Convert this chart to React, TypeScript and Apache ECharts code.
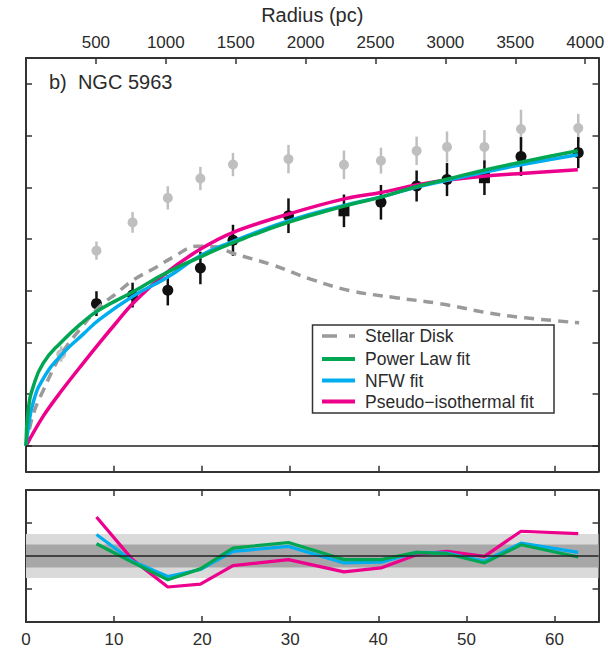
import React, { useEffect, useRef } from "react";
import * as echarts from "echarts";

// ---------- data ----------
// radius in arcsec (bottom axis), velocities in km/s
const radiusArcsec = [8.0, 12.1, 16.1, 19.8, 23.5, 29.8, 36.1, 40.3, 44.35, 47.8, 52.05, 56.2, 62.7];
const vObserved = [55.0, 58.3, 60.2, 68.8, 79.5, 89.0, 90.9, 94.2, 100.5, 103.0, 103.7, 111.9, 113.4];
const vObservedErr = [4.8, 4.8, 5.9, 6.3, 6.0, 6.7, 6.3, 6.7, 6.0, 6.4, 6.7, 7.5, 6.0];
const observedSymbols = ["circle", "circle", "circle", "circle", "circle", "circle", "rect", "circle", "circle", "circle", "rect", "circle", "circle"];

const totalRadius = [4.0, 8.0, 12.1, 16.1, 19.8, 23.5, 29.8, 36.1, 40.3, 44.35, 47.8, 52.05, 56.2, 62.7];
const vTotal = [35.5, 75.5, 86.4, 95.9, 103.4, 108.8, 110.9, 108.7, 110.3, 114.1, 115.6, 115.6, 122.5, 122.9];
const vTotalErr = [3.0, 3.5, 4.0, 4.5, 4.5, 4.5, 5.5, 5.5, 5.0, 5.5, 6.0, 6.5, 7.5, 5.5];

const diskRadius = [0, 0.8, 1.9, 4.0, 6.13, 8.39, 10.29, 12.17, 14.83, 16.71, 19.4, 21.5, 23.48, 27.88, 32.3, 36.7, 42.0, 47.0, 53.8, 62.8];
const vDisk = [0, 12, 21, 35.4, 45.1, 54, 59, 64.1, 69.2, 73, 77.2, 77.0, 74.5, 70.1, 64.5, 60.1, 57.3, 55.0, 50.7, 47.6];

const fitRadius = [0, 0.26, 0.83, 1.96, 3.97, 6.5, 8.39, 12.1, 15.97, 19.77, 23.46, 29.77, 36.12, 40.3, 44.3, 47.8, 52.0, 56.2, 62.65];
const vPowerLaw = [0, 14, 23, 32, 40, 48, 52.7, 59.5, 67, 73, 78.5, 86.4, 92.7, 96.2, 100.2, 103.1, 106.6, 109.7, 114.1];
const vNFW = [0, 7, 17, 26, 35, 43.2, 49, 57.8, 65, 73.5, 79, 87, 93, 96.3, 100, 102.7, 105.8, 108.7, 112.6];

const isoRadius = [0, 1.96, 3.97, 6.5, 8.39, 10.29, 12.1, 15.97, 19.77, 23.46, 29.77, 36.12, 40.3, 44.3, 47.8, 52.0, 56.2, 62.65];
const vIso = [0, 11.5, 21, 32, 40, 47.8, 55, 67, 76, 82.5, 89.6, 95.5, 98, 100.9, 102.8, 104.3, 105.3, 106.8];

// residuals (lower panel)
const residPowerLaw = [0.37, -0.19, -0.72, -0.39, 0.24, 0.41, -0.11, -0.11, 0.11, 0.07, -0.21, 0.34, -0.03];
const residNFW = [0.65, -0.16, -0.62, -0.41, 0.14, 0.29, -0.21, -0.19, 0.11, 0.09, -0.16, 0.39, 0.11];
const residIso = [1.18, -0.11, -0.94, -0.85, -0.29, -0.11, -0.48, -0.36, 0.04, 0.14, -0.01, 0.75, 0.68];
const bandOuter = 0.67;
const bandInner = 0.35;

// axis ticks
const velocityTicks = [0, 20, 40, 60, 80, 100, 120, 140];
const pcMax = 4095;
const arcsecMax = 65;

const legendItems = ["Stellar Disk", "Power Law fit", "NFW fit", "Pseudo\u2212isothermal fit"];

// ---------- styles ----------
const FONT = "Liberation Sans, Arial, Helvetica, sans-serif";
const AXIS_COLOR = "#333333";
const TEXT_COLOR = "#2b2b2b";
const GREEN = "#00a651";
const BLUE = "#00aeef";
const PINK = "#ec008c";
const DISK_GRAY = "#9a9a9a";
const POINT_GRAY = "#bfbfbf";
const BLACK = "#111111";

const zip = (xs: number[], ys: number[]) => xs.map((x, i) => [x, ys[i]]);

function errorBarSeries(xs: number[], ys: number[], es: number[], color: string, width: number) {
  return {
    type: "custom",
    xAxisIndex: 0,
    yAxisIndex: 0,
    silent: true,
    encode: { x: 0, y: 1 },
    data: xs.map((x, i) => [x, ys[i], es[i]]),
    renderItem: (_params: any, api: any) => {
      const x = api.value(0);
      const y = api.value(1);
      const e = api.value(2);
      const p1 = api.coord([x, y - e]);
      const p2 = api.coord([x, y + e]);
      return {
        type: "line",
        shape: { x1: p1[0], y1: p1[1], x2: p2[0], y2: p2[1] },
        style: { stroke: color, lineWidth: width },
      };
    },
  };
}

function boxAxisX(gridIndex: number, position: "top" | "bottom", extra: any = {}) {
  return {
    type: "value",
    gridIndex,
    position,
    min: 0,
    max: arcsecMax,
    interval: 10,
    axisLine: { show: true, onZero: false, lineStyle: { color: AXIS_COLOR, width: 2 } },
    axisTick: { show: true, inside: true, length: 6, lineStyle: { color: AXIS_COLOR, width: 1.5 } },
    axisLabel: { show: false },
    splitLine: { show: false },
    ...extra,
  };
}

function boxAxisY(gridIndex: number, position: "left" | "right", extra: any = {}) {
  return {
    type: "value",
    gridIndex,
    position,
    axisLine: { show: true, onZero: false, lineStyle: { color: AXIS_COLOR, width: 2 } },
    axisLabel: { show: false },
    splitLine: { show: false },
    ...extra,
  };
}

export default function App() {
  const ref = useRef<HTMLDivElement>(null);

  useEffect(() => {
    if (!ref.current) return;
    const chart = echarts.init(ref.current, undefined, { renderer: "svg" });

    const topYAxisTick = {
      show: true,
      inside: true,
      length: 6,
      customValues: velocityTicks,
      lineStyle: { color: AXIS_COLOR, width: 1.5 },
    };

    const lineBase = {
      type: "line",
      xAxisIndex: 0,
      yAxisIndex: 0,
      showSymbol: false,
      symbol: "none",
      silent: true,
      smooth: 0.5,
    };

    const residBase = {
      type: "line",
      xAxisIndex: 2,
      yAxisIndex: 2,
      showSymbol: false,
      symbol: "none",
      silent: true,
    };

    const option: any = {
      animation: false,
      backgroundColor: "#ffffff",
      textStyle: { fontFamily: FONT },
      grid: [
        { left: 26, right: 9.5, top: 51.7, height: 420 },
        { left: 26, right: 9.5, top: 490, height: 132.7 },
      ],
      xAxis: [
        boxAxisX(0, "bottom"),
        {
          type: "value",
          gridIndex: 0,
          position: "top",
          min: 0,
          max: pcMax,
          interval: 500,
          name: "Radius (pc)",
          nameLocation: "middle",
          nameGap: 33,
          nameTextStyle: { fontSize: 20, color: TEXT_COLOR, fontFamily: FONT },
          axisLine: { show: true, onZero: false, lineStyle: { color: AXIS_COLOR, width: 2 } },
          axisTick: { show: true, inside: true, length: 6, lineStyle: { color: AXIS_COLOR, width: 1.5 } },
          axisLabel: {
            show: true,
            margin: 7,
            fontSize: 17,
            color: TEXT_COLOR,
            fontFamily: FONT,
            showMinLabel: false,
            showMaxLabel: false,
            formatter: (v: number) => String(v),
          },
          splitLine: { show: false },
        },
        boxAxisX(1, "bottom", {
          axisLabel: {
            show: true,
            margin: 9,
            fontSize: 17,
            color: TEXT_COLOR,
            fontFamily: FONT,
            showMinLabel: true,
            showMaxLabel: false,
            formatter: (v: number) => String(v),
          },
        }),
        boxAxisX(1, "top"),
      ],
      yAxis: [
        boxAxisY(0, "left", { min: -10, max: 150, axisTick: topYAxisTick }),
        boxAxisY(0, "right", { min: -10, max: 150, axisTick: topYAxisTick }),
        boxAxisY(1, "left", {
          min: -2,
          max: 2,
          interval: 1,
          axisTick: { show: true, inside: true, length: 6, lineStyle: { color: AXIS_COLOR, width: 1.5 } },
        }),
        boxAxisY(1, "right", {
          min: -2,
          max: 2,
          interval: 1,
          axisTick: { show: true, inside: true, length: 6, lineStyle: { color: AXIS_COLOR, width: 1.5 } },
        }),
      ],
      series: [
        // top panel
        errorBarSeries(totalRadius, vTotal, vTotalErr, POINT_GRAY, 2.5),
        {
          type: "scatter",
          xAxisIndex: 0,
          yAxisIndex: 0,
          silent: true,
          symbol: "circle",
          symbolSize: 10,
          itemStyle: { color: POINT_GRAY, opacity: 1 },
          data: zip(totalRadius, vTotal),
        },
        {
          ...lineBase,
          name: "Stellar Disk",
          smooth: 0.4,
          data: zip(diskRadius, vDisk),
          lineStyle: { color: DISK_GRAY, width: 3.5, type: [10, 7], cap: "butt" },
          markLine: {
            silent: true,
            symbol: "none",
            label: { show: false },
            lineStyle: { color: "#222222", width: 1.5, type: "solid" },
            data: [{ yAxis: 0 }],
          },
        },
        {
          ...lineBase,
          name: "Pseudo-isothermal fit",
          smooth: 0.35,
          data: zip(isoRadius, vIso),
          lineStyle: { color: PINK, width: 3.5 },
        },
        {
          ...lineBase,
          name: "NFW fit",
          data: zip(fitRadius, vNFW),
          lineStyle: { color: BLUE, width: 3.5 },
        },
        {
          ...lineBase,
          name: "Power Law fit",
          data: zip(fitRadius, vPowerLaw),
          lineStyle: { color: GREEN, width: 3.5 },
        },
        errorBarSeries(radiusArcsec, vObserved, vObservedErr, BLACK, 2.5),
        {
          type: "scatter",
          xAxisIndex: 0,
          yAxisIndex: 0,
          silent: true,
          symbolSize: 11,
          itemStyle: { color: BLACK, opacity: 1 },
          data: radiusArcsec.map((r, i) => ({ value: [r, vObserved[i]], symbol: observedSymbols[i] })),
        },
        // bottom panel
        {
          type: "line",
          xAxisIndex: 2,
          yAxisIndex: 2,
          silent: true,
          data: [],
          markArea: {
            silent: true,
            label: { show: false },
            data: [
              [
                { yAxis: -bandOuter, itemStyle: { color: "#dadada" } },
                { yAxis: bandOuter },
              ],
              [
                { yAxis: -bandInner, itemStyle: { color: "#a7a7a7" } },
                { yAxis: bandInner },
              ],
            ],
          },
          markLine: {
            silent: true,
            symbol: "none",
            label: { show: false },
            lineStyle: { color: "#222222", width: 1.5, type: "solid" },
            data: [{ yAxis: 0 }],
          },
        },
        {
          ...residBase,
          data: zip(radiusArcsec, residIso),
          lineStyle: { color: PINK, width: 3.2 },
        },
        {
          ...residBase,
          data: zip(radiusArcsec, residNFW),
          lineStyle: { color: BLUE, width: 3.2 },
        },
        {
          ...residBase,
          data: zip(radiusArcsec, residPowerLaw),
          lineStyle: { color: GREEN, width: 3.2 },
        },
      ],
      graphic: [
        {
          type: "text",
          left: 49,
          top: 72,
          style: { text: "b)  NGC 5963", fontSize: 20, fill: TEXT_COLOR, fontFamily: FONT },
        },
        {
          type: "group",
          children: [
            {
              type: "rect",
              shape: { x: 312.5, y: 325, width: 241.5, height: 88 },
              style: { fill: "#ffffff", stroke: AXIS_COLOR, lineWidth: 1.5 },
            },
            {
              type: "line",
              shape: { x1: 322, y1: 336, x2: 355, y2: 336 },
              style: { stroke: DISK_GRAY, lineWidth: 3.5, lineDash: [15, 12] },
            },
            {
              type: "line",
              shape: { x1: 322, y1: 359, x2: 355, y2: 359 },
              style: { stroke: GREEN, lineWidth: 4 },
            },
            {
              type: "line",
              shape: { x1: 322, y1: 380.5, x2: 355, y2: 380.5 },
              style: { stroke: BLUE, lineWidth: 4 },
            },
            {
              type: "line",
              shape: { x1: 322, y1: 401.5, x2: 355, y2: 401.5 },
              style: { stroke: PINK, lineWidth: 4 },
            },
            ...legendItems.map((t, i) => ({
              type: "text",
              x: 365,
              y: [336, 359, 380.5, 401.5][i],
              style: {
                text: t,
                fontSize: 17.5,
                fill: TEXT_COLOR,
                fontFamily: FONT,
                verticalAlign: "middle",
                align: "left",
              },
            })),
          ],
        },
      ],
    };

    chart.setOption(option);
    return () => chart.dispose();
  }, []);

  return (
    <div
      ref={ref}
      style={{ position: "absolute", left: 0, top: 0, width: 608, height: 648, background: "#fff" }}
    />
  );
}
